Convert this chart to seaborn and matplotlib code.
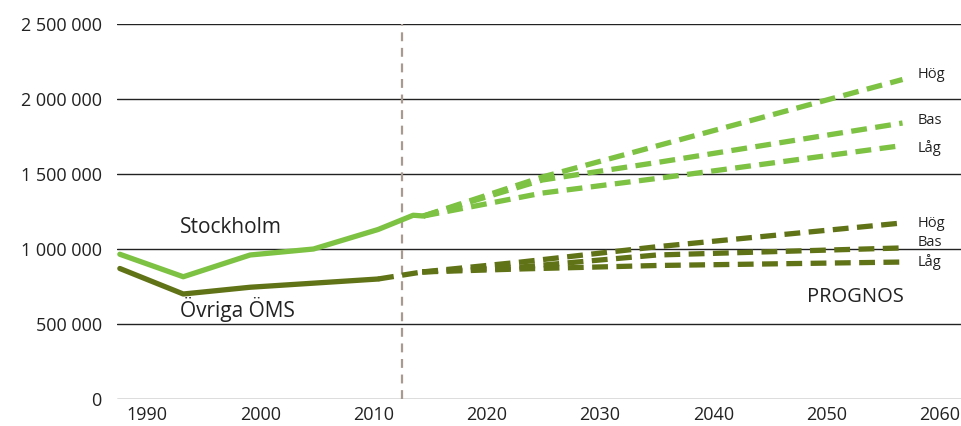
import numpy as np
import pandas as pd
import matplotlib
matplotlib.use('Agg')
import matplotlib.pyplot as plt
import seaborn as sns
from matplotlib.ticker import FuncFormatter

# Data (year, population)
sthlm_years = [1987.6, 1993.2, 1999.1, 2004.7, 2010.4, 2013.5, 2014.4]
sthlm_values = [965000, 815000, 960000, 1000000, 1130000, 1225000, 1220000]

ovr_years = [1987.6, 1993.2, 1999.1, 2010.4]
ovr_values = [870000, 700000, 745000, 800000]
ovr_bridge_years = [2010.4, 2014.3]
ovr_bridge_values = [800000, 847000]

prog_years = [2014.4, 2024.9, 2035.3, 2056.7]
sthlm_hog = [1220000, 1480000, 1693000, 2130000]
sthlm_bas = [1220000, 1460000, 1580000, 1840000]
sthlm_lag = [1220000, 1373000, 1473000, 1690000]

ovr_prog_years = [2014.3, 2023.0, 2035.0, 2056.6]
ovr_hog = [847000, 913000, 1015000, 1173000]
ovr_bas = [847000, 880000, 960000, 1007000]
ovr_lag = [847000, 867000, 890000, 913000]

prognos_start = 2012.5
year_ticks = [1990, 2000, 2010, 2020, 2030, 2040, 2050, 2060]
value_ticks = [0, 500000, 1000000, 1500000, 2000000, 2500000]

light = '#7DC242'
dark = '#617317'

sns.set_style('white')
plt.rcParams['font.family'] = ['Open Sans', 'DejaVu Sans']

fig = plt.figure(figsize=(9.62, 4.26), dpi=100)
ax = fig.add_axes([117 / 962, 27 / 426, 845 / 962, 375 / 426])

# gridlines
for v in value_ticks:
    ax.axhline(v, color='#222222' if v else '#555555', lw=1.0, zorder=1)

ax.axvline(prognos_start, color='#A89A90', lw=1.6, ls=(0, (4, 3)), zorder=1)

lw = 3.8
dash = (0, (3.0, 1.6))
sns.lineplot(x=sthlm_years, y=sthlm_values, ax=ax, color=light, lw=lw, zorder=3)
sns.lineplot(x=ovr_years, y=ovr_values, ax=ax, color=dark, lw=lw, zorder=3)
sns.lineplot(x=ovr_bridge_years, y=ovr_bridge_values, ax=ax, color=dark, lw=lw,
             ls=dash, zorder=3)
for vals in [sthlm_hog, sthlm_bas, sthlm_lag]:
    sns.lineplot(x=prog_years, y=vals, ax=ax, color=light, lw=lw, ls=dash, zorder=3)
for vals in [ovr_hog, ovr_bas, ovr_lag]:
    sns.lineplot(x=ovr_prog_years, y=vals, ax=ax, color=dark, lw=lw, ls=dash, zorder=3)

# labels
txt = '#222222'
for lab, y in zip(['Hög', 'Bas', 'Låg'], [2160000, 1860000, 1670000]):
    ax.text(2058.0, y, lab, fontsize=10.5, color=txt, va='center', ha='left')
for lab, y in zip(['Hög', 'Bas', 'Låg'], [1173000, 1040000, 913000]):
    ax.text(2058.0, y, lab, fontsize=10.5, color=txt, va='center', ha='left')

ax.text(1992.9, 1140000, 'Stockholm', fontsize=15, color=txt, va='center')
ax.text(1992.9, 600000, 'Övriga ÖMS', fontsize=15, color=txt, va='center')
ax.text(2048.3, 680000, 'PROGNOS', fontsize=14.5, color=txt, va='center')

ax.set_xlim(1987.35, 2061.95)
ax.set_ylim(0, 2500000)
ax.set_xticks(year_ticks)
ax.set_yticks(value_ticks)
ax.yaxis.set_major_formatter(FuncFormatter(lambda v, p: f'{int(v):,}'.replace(',', ' ')))
ax.tick_params(axis='both', length=0, labelsize=13, labelcolor=txt)
ax.tick_params(axis='y', pad=11)
ax.tick_params(axis='x', pad=5)
ax.set_xlabel('')
ax.set_ylabel('')
for s in ax.spines.values():
    s.set_visible(False)

fig.savefig('out.png', dpi=100)
